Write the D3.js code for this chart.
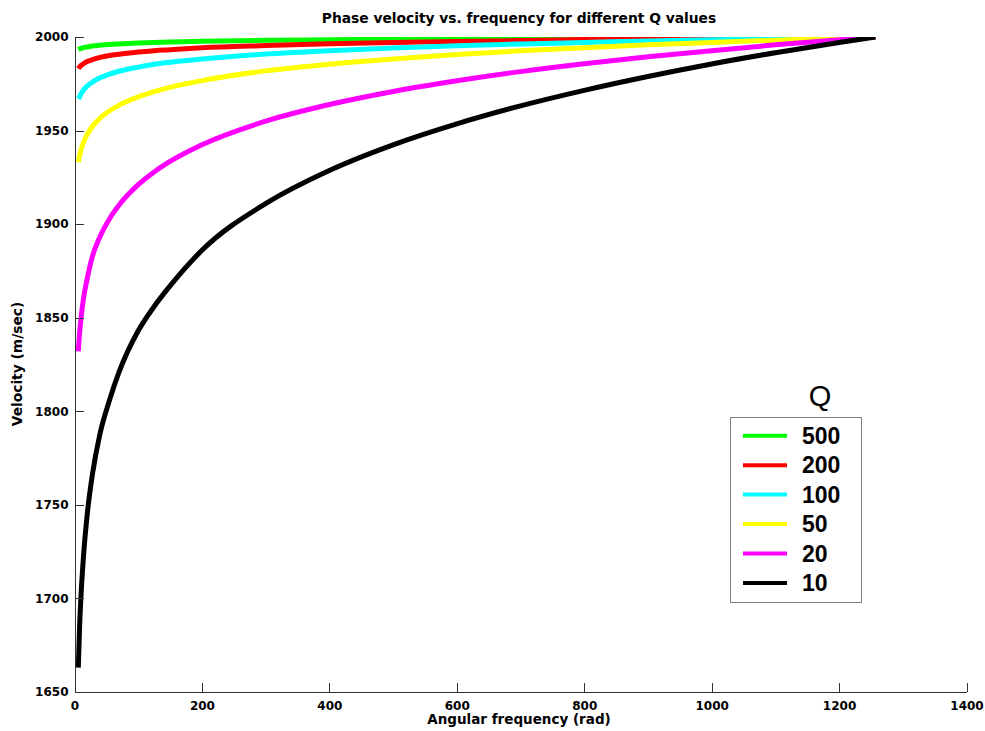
<!DOCTYPE html>
<html lang="en">
<head>
<meta charset="utf-8">
<style>
  html, body { margin: 0; padding: 0; background: #fff; }
  svg { display: block; }
  .axis text { font-family: "DejaVu Sans", sans-serif; font-weight: bold; font-size: 12px; fill: #000; }
  .axis path, .axis line { stroke: #333; shape-rendering: crispEdges; }
  .lbl { font-family: "DejaVu Sans", sans-serif; font-weight: bold; fill: #000; }
</style>
</head>
<body>
<svg width="985" height="731"></svg>
<script src="https://cdn.jsdelivr.net/npm/d3@7"></script>
<script>
// angular frequency samples (rad)
var omega = [6, 8, 10, 14, 20, 28, 40, 55, 70, 100, 125, 150, 200, 300, 400, 500, 600, 700, 800, 900, 1000, 1100, 1200, 1257]

// phase velocity (m/sec) for each Q
var vQ500 = [1993.2, 1993.6, 1993.9, 1994.3, 1994.7, 1995.2, 1995.6, 1996.0, 1996.3, 1996.8, 1997.1, 1997.3, 1997.7, 1998.2, 1998.5, 1998.8, 1999.1, 1999.3, 1999.4, 1999.6, 1999.7, 1999.8, 1999.9, 2000]
var vQ200 = [1983.1, 1984.0, 1984.7, 1985.7, 1986.9, 1987.9, 1989.1, 1990.1, 1990.8, 1992.0, 1992.7, 1993.2, 1994.2, 1995.4, 1996.4, 1997.1, 1997.6, 1998.1, 1998.6, 1998.9, 1999.3, 1999.6, 1999.9, 2000]
var vQ100 = [1967.0, 1968.1, 1969.5, 1971.6, 1973.8, 1975.9, 1978.2, 1980.2, 1981.7, 1983.9, 1985.4, 1986.5, 1988.3, 1990.9, 1992.7, 1994.1, 1995.3, 1996.3, 1997.1, 1997.9, 1998.5, 1999.2, 1999.7, 2000]
var vQ50 = [1933.1, 1936.7, 1939.4, 1943.6, 1948.0, 1952.2, 1956.6, 1960.6, 1963.6, 1968.0, 1970.8, 1973.1, 1976.7, 1981.9, 1985.5, 1988.3, 1990.6, 1992.6, 1994.3, 1995.8, 1997.1, 1998.3, 1999.4, 2000]
var vQ20 = [1832, 1842, 1849, 1860, 1871, 1882.6, 1893.3, 1902.9, 1910.2, 1921.1, 1927.9, 1933.5, 1942.4, 1955.0, 1963.9, 1970.9, 1976.6, 1981.5, 1985.7, 1989.4, 1992.7, 1995.8, 1998.5, 2000]
var vQ10 = [1663, 1685, 1700, 1722, 1745, 1766, 1788, 1806, 1821, 1843, 1856, 1867, 1886, 1911, 1928.7, 1942.4, 1953.6, 1963.2, 1971.5, 1978.9, 1985.6, 1991.6, 1997.1, 2000]

var qLabels = ['500', '200', '100', '50', '20', '10']
var qColors = ['#00ff00', '#ff0000', '#00ffff', '#ffff00', '#ff00ff', '#000000']
var qValues = [vQ500, vQ200, vQ100, vQ50, vQ20, vQ10]

var xTicks = [0, 200, 400, 600, 800, 1000, 1200, 1400]
var yTicks = [1650, 1700, 1750, 1800, 1850, 1900, 1950, 2000]

var svg = d3.select('svg')

var plotLeft = 74.5, plotRight = 966.5, plotTop = 37, plotBottom = 692

var x = d3.scaleLinear().domain([0, 1400]).range([plotLeft, plotRight])
var y = d3.scaleLinear().domain([1650, 2000]).range([plotBottom, plotTop])

svg.append('defs').append('clipPath').attr('id', 'plotclip')
  .append('rect')
  .attr('x', plotLeft).attr('y', plotTop)
  .attr('width', plotRight - plotLeft).attr('height', plotBottom - plotTop)

var series = qLabels.map(function (q, i) {
  return {
    q: q,
    color: qColors[i],
    points: omega.map(function (w, j) { return [w, qValues[i][j]] })
  }
})

var line = d3.line()
  .x(function (d) { return x(d[0]) })
  .y(function (d) { return y(d[1]) })
  .curve(d3.curveMonotoneX)

svg.append('g')
  .attr('clip-path', 'url(#plotclip)')
  .selectAll('path')
  .data(series)
  .enter().append('path')
    .attr('d', function (d) { return line(d.points) })
    .attr('fill', 'none')
    .attr('stroke', function (d) { return d.color })
    .attr('stroke-width', 5)

// axes (no box, ticks pointing inward)
svg.append('g')
  .attr('class', 'axis')
  .attr('transform', 'translate(0,' + plotBottom + ')')
  .call(d3.axisBottom(x).tickValues(xTicks).tickSizeInner(-9).tickSizeOuter(0).tickPadding(9).tickFormat(d3.format('d')))

svg.append('g')
  .attr('class', 'axis')
  .attr('transform', 'translate(' + plotLeft + ',0)')
  .call(d3.axisLeft(y).tickValues(yTicks).tickSizeInner(-9).tickSizeOuter(0).tickPadding(6).tickFormat(d3.format('d')))

// titles
svg.append('text')
  .attr('class', 'lbl')
  .attr('x', 519)
  .attr('y', 23)
  .attr('text-anchor', 'middle')
  .style('font-size', '13.8px')
  .text('Phase velocity vs. frequency for different Q values')

svg.append('text')
  .attr('class', 'lbl')
  .attr('x', 519)
  .attr('y', 724)
  .attr('text-anchor', 'middle')
  .style('font-size', '13.5px')
  .text('Angular frequency (rad)')

svg.append('text')
  .attr('class', 'lbl')
  .attr('transform', 'translate(22,364) rotate(-90)')
  .attr('text-anchor', 'middle')
  .style('font-size', '13.8px')
  .text('Velocity (m/sec)')

// legend
var legend = svg.append('g')

legend.append('text')
  .attr('x', 820)
  .attr('y', 406)
  .attr('text-anchor', 'middle')
  .style('font-family', '"Liberation Sans", Arial, sans-serif')
  .style('font-size', '29px')
  .text('Q')

legend.append('rect')
  .attr('x', 730.5).attr('y', 417.5)
  .attr('width', 131).attr('height', 185)
  .attr('fill', '#fff')
  .attr('stroke', '#808080')
  .attr('stroke-width', 1)

var items = legend.selectAll('g.item')
  .data(series)
  .enter().append('g')
    .attr('class', 'item')
    .attr('transform', function (d, i) { return 'translate(0,' + (435.7 + i * 29.45) + ')' })

items.append('line')
  .attr('x1', 743).attr('x2', 787)
  .attr('stroke', function (d) { return d.color })
  .attr('stroke-width', 4)

items.append('text')
  .attr('x', 802)
  .attr('y', 8.3)
  .style('font-family', '"Liberation Sans", Arial, sans-serif')
  .style('font-weight', 'bold')
  .style('font-size', '23px')
  .text(function (d) { return d.q })
</script>
</body>
</html>
